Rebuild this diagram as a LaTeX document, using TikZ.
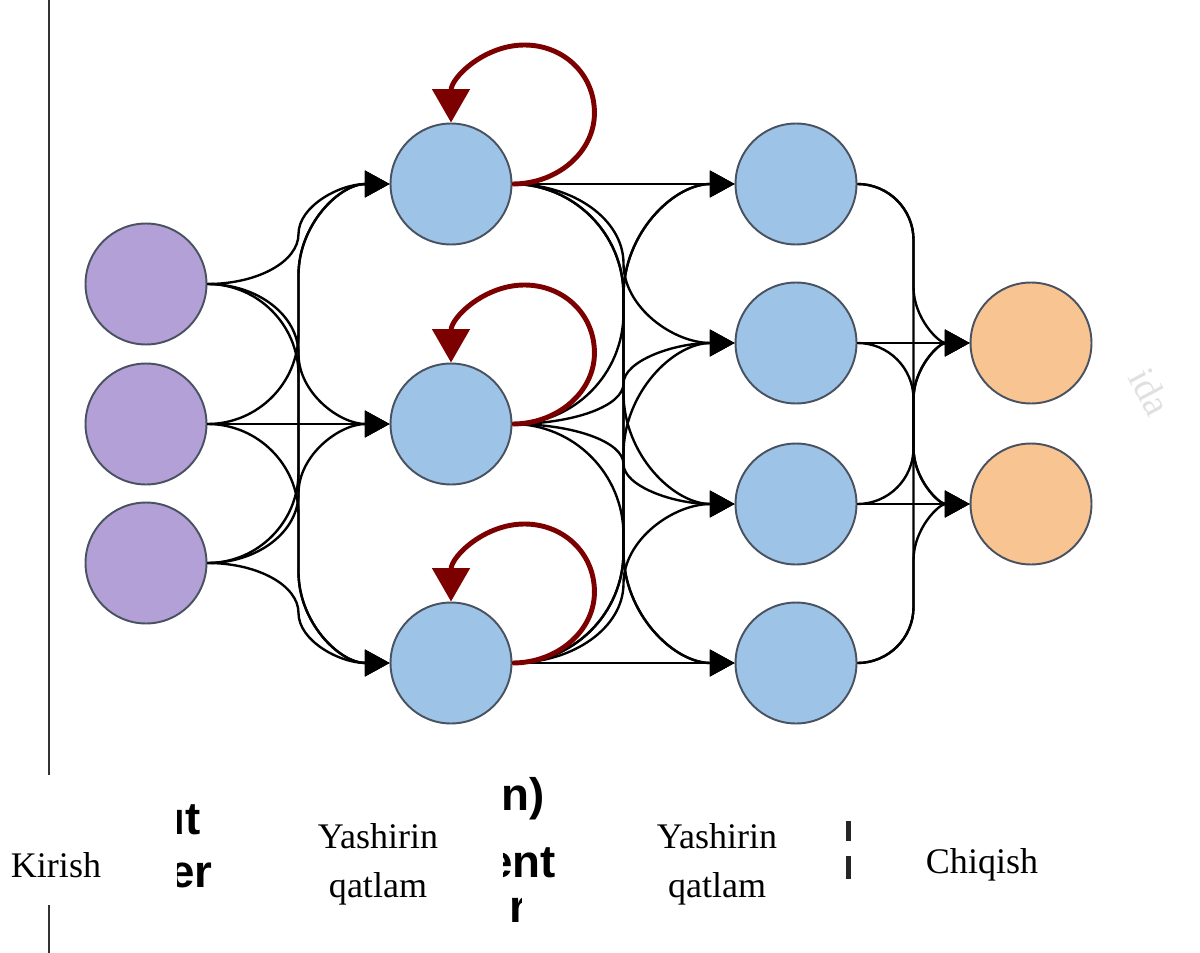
\documentclass[tikz,border=0pt]{standalone}
\usepackage{fontspec}
\setmainfont{Liberation Serif}
\newfontfamily\fragfont{Liberation Sans}
\usetikzlibrary{arrows.meta,calc}
\definecolor{inpcol}{RGB}{178,160,214}
\definecolor{hidcol}{RGB}{157,195,230}
\definecolor{outcol}{RGB}{248,196,146}
\definecolor{nodeline}{RGB}{72,82,96}
\definecolor{loopred}{RGB}{125,0,0}
\newcommand\nnconn[2]{\draw[edge] let \p1=(#1.east), \p2=(#2.west),
  \n1={0.5*\x1+0.5*\x2}, \n3={0.5*(\x2-\x1)},
  \n2={min(abs(\y2-\y1)/2, 0.5*(\x2-\x1))*sign(\y2-\y1)} in
  (\p1) .. controls ({\x1+0.552*\n3},\y1) and (\n1,{\y1+0.448*\n2}) .. (\n1,{\y1+\n2})
  -- (\n1,{\y2-\n2}) .. controls (\n1,{\y2-0.448*\n2}) and ({\x2-0.552*\n3},\y2) .. (\p2);}
\newcommand\nnloop[1]{\draw[loopedge] (#1.east) .. controls +(45,0) and +(0,39) .. ++(82,-71) .. controls +(0,-39) and +(39,0) .. ++(-70,-68) .. controls +(-40,0) and +(0,-45) .. (#1.north);}
\begin{document}
\begin{tikzpicture}[x=0.02cm,y=-0.02cm,
 neuron/.style={circle, draw=nodeline, line width=1.1pt, minimum size=2.42cm, inner sep=0pt},
 inp/.style={neuron, fill=inpcol},
 hid/.style={neuron, fill=hidcol},
 outp/.style={neuron, fill=outcol},
 edge/.style={draw=black, line width=1.35pt, -{Triangle[length=14pt,width=15pt]}},
 loopedge/.style={draw=loopred, line width=2.8pt, -{Triangle[length=19pt,width=21pt]}},
 lbl/.style={font=\fontsize{20.5}{28}\selectfont, align=center, inner sep=0pt},
 frag/.style={font=\fragfont\bfseries\fontsize{26}{30}\selectfont, inner sep=0pt},
 vbar/.style={draw=black!80, line width=1.7pt}
]
\useasboundingbox (0,0) rectangle (1200,953);
% left rule
\coordinate (r1a) at (49,0);
\coordinate (r1b) at (49,775);
\coordinate (r2a) at (49,905);
\coordinate (r2b) at (49,953);
\draw[vbar] (r1a) -- (r1b);
\draw[vbar] (r2a) -- (r2b);
% neurons
\node[inp] (i1) at (146,284) {};
\node[inp] (i2) at (146,424) {};
\node[inp] (i3) at (146,563) {};
\node[hid] (a1) at (451,184) {};
\node[hid] (a2) at (451,424) {};
\node[hid] (a3) at (451,663) {};
\node[hid] (b1) at (796,184) {};
\node[hid] (b2) at (796,343) {};
\node[hid] (b3) at (796,504) {};
\node[hid] (b4) at (796,663) {};
\node[outp] (o1) at (1031,343) {};
\node[outp] (o2) at (1031,504) {};
% connections
\foreach \s in {i1,i2,i3}{\foreach \t in {a1,a2,a3}{\nnconn{\s}{\t}}}
\foreach \s in {a1,a2,a3}{\foreach \t in {b1,b2,b3,b4}{\nnconn{\s}{\t}}}
\foreach \s in {b1,b2,b3,b4}{\foreach \t in {o1,o2}{\nnconn{\s}{\t}}}
% recurrent loops
\nnloop{a1}
\nnloop{a2}
\nnloop{a3}
% labels
\node[lbl] (lin) at (56,865) {Kirish};
\node[lbl] (lh1) at (378,864) {Yashirin\\qatlam};
\node[lbl] (lh2) at (717,864) {Yashirin\\qatlam};
\node[lbl] (lout) at (982,865) {Chiqish};
% cut-off text fragments
\begin{scope}
\clip (177,770) rectangle (240,910);
\node[frag, anchor=base east] (fut) at (201,834) {ut};
\node[frag, anchor=base east] (fer) at (213,887) {er};
\end{scope}
\begin{scope}
\clip (503,760) rectangle (580,886);
\node[frag, anchor=base east] (fn) at (545,810) {n)};
\node[frag, anchor=base east] (fent) at (556,877) {ent};
\end{scope}
\begin{scope}
\clip (508,891) rectangle (521,922);
\node[frag, anchor=base west] (fr) at (509,922) {r};
\end{scope}
\fill[black!85] (846,821) rectangle (851,841);
\fill[black!85] (846,856) rectangle (851,879);
\node[text=black!12, rotate=-62, font=\fontsize{22}{24}\selectfont] (wm) at (1150,392) {ida};
\end{tikzpicture}
\end{document}
